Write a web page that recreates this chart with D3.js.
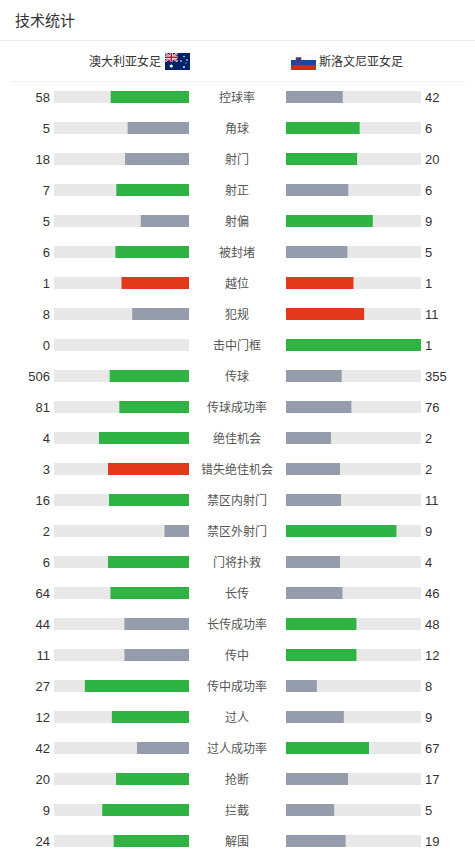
<!DOCTYPE html>
<html>
<head>
<meta charset="utf-8">
<script src="https://cdn.jsdelivr.net/npm/d3@7"></script>
<style>
  body { margin: 0; background: #fff; }
  text { font-family: "Liberation Sans", Arial, "Noto Sans CJK SC", sans-serif; }
  .cjk { font-family: "Noto Sans CJK SC", sans-serif; }
</style>
</head>
<body>
<div id="chart"></div>
<script>
// team names
var homeTeam = "澳大利亚女足";
var awayTeam = "斯洛文尼亚女足";

// stat rows
var categories = ["控球率", "角球", "射门", "射正", "射偏", "被封堵", "越位", "犯规", "击中门框",
  "传球", "传球成功率", "绝佳机会", "错失绝佳机会", "禁区内射门", "禁区外射门", "门将扑救",
  "长传", "长传成功率", "传中", "传中成功率", "过人", "过人成功率", "抢断", "拦截", "解围"];
var homeValues = [58, 5, 18, 7, 5, 6, 1, 8, 0, 506, 81, 4, 3, 16, 2, 6, 64, 44, 11, 27, 12, 42, 20, 9, 24];
var awayValues = [42, 6, 20, 6, 9, 5, 1, 11, 1, 355, 76, 2, 2, 11, 9, 4, 46, 48, 12, 8, 9, 67, 17, 5, 19];

// stats where more is worse (leader shown red)
var negativeStats = ["越位", "犯规", "错失绝佳机会"];

var svgWidth = 475;
var svgHeight = 857;

var green = "#2fb344";
var red = "#e2391d";
var grey = "#959dad";
var track = "#e8e8e8";

var svg = d3.select("#chart")
  .append("svg")
  .attr("width", svgWidth)
  .attr("height", svgHeight);

// header
svg.append("text")
  .attr("class", "cjk")
  .attr("x", 15)
  .attr("y", 26)
  .attr("font-size", 15)
  .attr("fill", "#333")
  .text("技术统计");

svg.append("line")
  .attr("x1", 0).attr("x2", svgWidth)
  .attr("y1", 40.5).attr("y2", 40.5)
  .attr("stroke", "#eeeeee");

svg.append("line")
  .attr("x1", 10).attr("x2", 465)
  .attr("y1", 81.5).attr("y2", 81.5)
  .attr("stroke", "#eeeeee");

// team names
svg.append("text")
  .attr("class", "cjk")
  .attr("x", 161)
  .attr("y", 65.5)
  .attr("text-anchor", "end")
  .attr("font-size", 12)
  .attr("fill", "#333")
  .text(homeTeam);

svg.append("text")
  .attr("class", "cjk")
  .attr("x", 319)
  .attr("y", 65.5)
  .attr("font-size", 12)
  .attr("fill", "#333")
  .text(awayTeam);

// australian flag
var au = svg.append("g").attr("transform", "translate(165,53)");
au.append("rect").attr("width", 25).attr("height", 17).attr("fill", "#012169");
var uj = au.append("g");
uj.append("rect").attr("width", 12.5).attr("height", 8.5).attr("fill", "#012169");
uj.append("path").attr("d", "M0,0L12.5,8.5M12.5,0L0,8.5").attr("stroke", "#fff").attr("stroke-width", 2);
uj.append("path").attr("d", "M0,0L12.5,8.5M12.5,0L0,8.5").attr("stroke", "#c8102e").attr("stroke-width", 0.8);
uj.append("path").attr("d", "M6.25,0V8.5M0,4.25H12.5").attr("stroke", "#fff").attr("stroke-width", 3);
uj.append("path").attr("d", "M6.25,0V8.5M0,4.25H12.5").attr("stroke", "#c8102e").attr("stroke-width", 1.6);
var auStars = [[6.25, 13, 1.6], [19, 3.5, 0.8], [16, 8, 0.8], [22, 7, 0.8], [19, 14, 0.9], [21, 10, 0.5]];
au.selectAll("circle.star")
  .data(auStars)
  .enter()
  .append("circle")
  .attr("cx", d => d[0])
  .attr("cy", d => d[1])
  .attr("r", d => d[2])
  .attr("fill", "#fff");

// slovenian flag
var si = svg.append("g").attr("transform", "translate(291,55)");
si.append("rect").attr("width", 25).attr("height", 5).attr("fill", "#fff").attr("stroke", "#eee").attr("stroke-width", 0.5);
si.append("rect").attr("y", 5).attr("width", 25).attr("height", 5).attr("fill", "#1747a6");
si.append("rect").attr("y", 10).attr("width", 25).attr("height", 5).attr("fill", "#d7261e");
si.append("path")
  .attr("d", "M5,2.5H10V7.5Q7.5,10.5 5,7.5Z")
  .attr("fill", "#1747a6")
  .attr("stroke", "#d7261e")
  .attr("stroke-width", 0.6);

// rows
var rows = categories.map(function(c, i) {
  return { name: c, home: homeValues[i], away: awayValues[i] };
});

var yScale = d3.scaleBand()
  .domain(categories)
  .range([81.5, 81.5 + 31 * categories.length])
  .paddingInner(0);

var barW = 135;
var barH = 12;
var leftX = 54;
var rightX = 286;

var share = d3.scaleLinear().domain([0, 1]).range([0, barW]);

function barColor(d, side) {
  var mine = side === "home" ? d.home : d.away;
  var other = side === "home" ? d.away : d.home;
  var bad = negativeStats.indexOf(d.name) >= 0;
  if (mine >= other) return bad ? red : green;
  return grey;
}

var rowGroup = svg.selectAll("g.row")
  .data(rows)
  .enter()
  .append("g")
  .attr("class", "row")
  .attr("transform", d => `translate(0, ${yScale(d.name) + yScale.bandwidth() / 2})`);

// tracks
rowGroup.append("rect")
  .attr("x", leftX).attr("y", -barH / 2)
  .attr("width", barW).attr("height", barH)
  .attr("fill", track);

rowGroup.append("rect")
  .attr("x", rightX).attr("y", -barH / 2)
  .attr("width", barW).attr("height", barH)
  .attr("fill", track);

// value bars
rowGroup.append("rect")
  .attr("x", d => leftX + barW - share(d.home / (d.home + d.away || 1)))
  .attr("y", -barH / 2)
  .attr("width", d => share(d.home / (d.home + d.away || 1)))
  .attr("height", barH)
  .attr("fill", d => barColor(d, "home"));

rowGroup.append("rect")
  .attr("x", rightX)
  .attr("y", -barH / 2)
  .attr("width", d => share(d.away / (d.home + d.away || 1)))
  .attr("height", barH)
  .attr("fill", d => barColor(d, "away"));

// numbers
rowGroup.append("text")
  .attr("x", 50)
  .attr("y", 4.5)
  .attr("text-anchor", "end")
  .attr("font-size", 13)
  .attr("fill", "#333")
  .text(d => d.home);

rowGroup.append("text")
  .attr("x", 425)
  .attr("y", 4.5)
  .attr("font-size", 13)
  .attr("fill", "#333")
  .text(d => d.away);

// labels
rowGroup.append("text")
  .attr("class", "cjk")
  .attr("x", 237)
  .attr("y", 4.5)
  .attr("text-anchor", "middle")
  .attr("font-size", 12)
  .attr("fill", "#555")
  .text(d => d.name);
</script>
</body>
</html>
